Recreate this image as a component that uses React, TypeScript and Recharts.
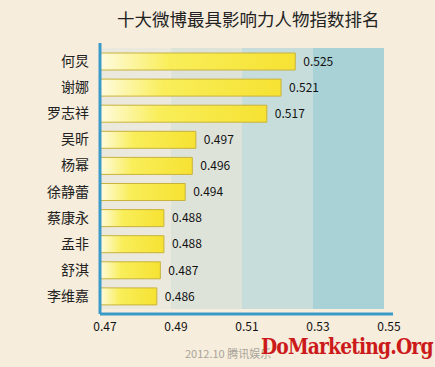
import { BarChart, Bar, XAxis, YAxis, ReferenceArea, LabelList } from 'recharts';

const names = ['何炅', '谢娜', '罗志祥', '吴昕', '杨幂', '徐静蕾', '蔡康永', '孟非', '舒淇', '李维嘉'];
const scores = [0.525, 0.521, 0.517, 0.497, 0.496, 0.494, 0.488, 0.488, 0.487, 0.486];
const xTicks = [0.47, 0.49, 0.51, 0.53, 0.55];
const bandColors = ['#ebe9dd', '#dee3da', '#c7dddb', '#a9d2d6'];

const data = names.map((name, i) => ({ name, value: scores[i] }));

const cjk = '"Noto Sans CJK SC", "Noto Sans", sans-serif';

export default function App() {
    return (
        <div style={{ position: 'fixed', left: 0, top: 0, width: 435, height: 367, background: '#f6eddc', fontFamily: cjk, overflow: 'hidden' }}>
            <div style={{ position: 'absolute', left: 117, top: 6, fontSize: 17.5, color: '#222', whiteSpace: 'nowrap' }}>
                十大微博最具影响力人物指数排名
            </div>
            <BarChart
                width={435}
                height={367}
                data={data}
                layout="vertical"
                margin={{ top: 43, right: 42, bottom: 23, left: 0 }}
            >
                <defs>
                    <linearGradient id="barFill" x1="0" y1="0" x2="1" y2="0">
                        <stop offset="0%" stopColor="#fffbe0" />
                        <stop offset="35%" stopColor="#f9ee5a" />
                        <stop offset="100%" stopColor="#f6e232" />
                    </linearGradient>
                </defs>
                {xTicks.slice(0, -1).map((t, i) => (
                    <ReferenceArea key={t} x1={t} x2={xTicks[i + 1]} fill={bandColors[i]} fillOpacity={1} stroke="none" ifOverflow="visible" />
                ))}
                <XAxis
                    type="number"
                    domain={[0.47, 0.55]}
                    ticks={xTicks}
                    allowDataOverflow
                    padding={{ left: 0, right: 9 }}
                    height={30}
                    axisLine={{ stroke: '#3a9bc9', strokeWidth: 3 }}
                    tickLine={false}
                    tick={{ fill: '#111', fontSize: 12, dx: 5, fontFamily: cjk }}
                    tickFormatter={(v) => v.toFixed(2)}
                />
                <YAxis
                    type="category"
                    dataKey="name"
                    width={100}
                    padding={{ top: 5, bottom: 5 }}
                    axisLine={{ stroke: '#3a9bc9', strokeWidth: 3 }}
                    tickLine={false}
                    tickSize={9}
                    tick={{ fill: '#222', fontSize: 14, fontFamily: cjk }}
                />
                <Bar dataKey="value" fill="url(#barFill)" stroke="#c8b23c" strokeWidth={1} barSize={17} isAnimationActive={false}>
                    <LabelList dataKey="value" position="right" offset={8} fill="#111" fontSize={12} fontFamily={cjk} formatter={(v: number) => v.toFixed(3)} />
                </Bar>
            </BarChart>
            <div style={{ position: 'absolute', left: 185, top: 345, fontSize: 11, color: '#a8a39a', whiteSpace: 'nowrap' }}>
                2012.10 腾讯娱乐
            </div>
            <div style={{ position: 'absolute', left: 261, top: 333, fontSize: 22, fontWeight: 'bold', color: '#cc1a1a', fontFamily: '"DejaVu Serif", serif', letterSpacing: -1, whiteSpace: 'nowrap', transform: 'scaleX(0.85)', transformOrigin: 'left center' }}>
                DoMarketing.Org
            </div>
        </div>
    );
}
